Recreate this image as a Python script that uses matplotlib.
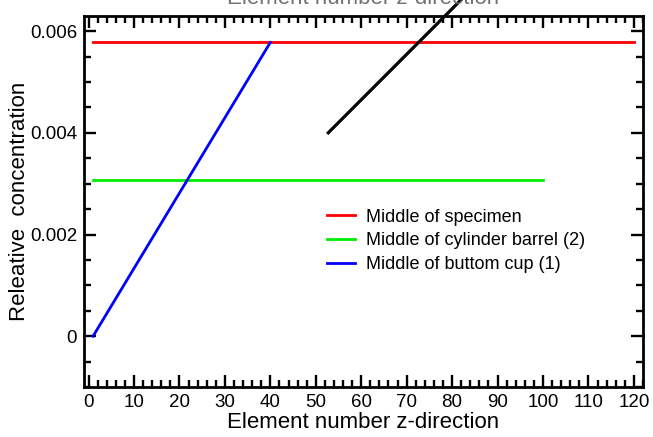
import numpy as np
import matplotlib
matplotlib.use("Agg")
import matplotlib.pyplot as plt
from matplotlib.ticker import MultipleLocator, FuncFormatter

plt.rcParams['font.family'] = ['Liberation Sans', 'DejaVu Sans']

# concentration profiles along the specimen (element number vs relative conc.)
specimen_x = [1, 120]
specimen_y = [0.00578, 0.00578]
barrel_x = [1, 100]
barrel_y = [0.00307, 0.00307]
cup_x = [1, 40]
cup_y = [0.0, 0.00578]
# stray pointer line
pointer_x = [52.5, 84]
pointer_y = [0.00398, 0.0068]

fig = plt.figure(figsize=(6.53, 4.37), dpi=100)
ax = fig.add_axes([0.1286, 0.1144, 0.8561, 0.849])

ax.plot(specimen_x, specimen_y, color='#ff0000', lw=2.0, label='Middle of specimen')
ax.plot(barrel_x, barrel_y, color='#00ee00', lw=2.0, label='Middle of cylinder barrel (2)')
ax.plot(cup_x, cup_y, color='#0000ff', lw=2.0, label='Middle of buttom cup (1)')
ax.plot(pointer_x, pointer_y, color='black', lw=2.3, clip_on=False,
        solid_capstyle='butt')

ax.set_xlim(-1, 122)
ax.set_ylim(-0.001, 0.0063)
ax.xaxis.set_major_locator(MultipleLocator(10))
ax.xaxis.set_minor_locator(MultipleLocator(2))
ax.yaxis.set_major_locator(MultipleLocator(0.002))
ax.yaxis.set_minor_locator(MultipleLocator(0.0005))
ax.yaxis.set_major_formatter(FuncFormatter(lambda v, p: '0' if abs(v) < 1e-12 else f'{v:.3f}'))

ax.tick_params(which='both', direction='in', top=True, right=True, width=1.7,
               labelsize=13.5, pad=5)
ax.tick_params(which='major', length=8.6)
ax.tick_params(which='minor', length=5)
for s in ax.spines.values():
    s.set_linewidth(2.0)

ax.set_xlabel('Element number z-direction', fontsize=16, labelpad=1)
ax.set_ylabel('Releative  concentration', fontsize=16, labelpad=0)
ax.set_title('Element number z-direction', fontsize=16, color='0.45', pad=8.6)

ax.legend(loc='upper left', bbox_to_anchor=(0.422, 0.5), frameon=False,
          fontsize=13, handlelength=1.55, handletextpad=0.6, labelspacing=0.37,
          borderaxespad=0)

fig.savefig('out.png', dpi=100)
